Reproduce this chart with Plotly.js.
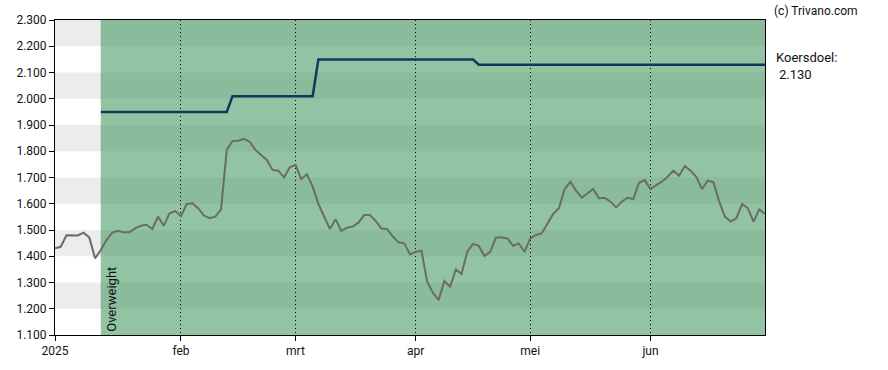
<!DOCTYPE html>
<html>
<head>
<meta charset="utf-8">
<script src="https://cdn.plot.ly/plotly-3.0.1.min.js"></script>
<style>html,body{margin:0;padding:0;background:#fff;}#chart{width:888px;height:370px;}</style>
</head>
<body>
<div id="chart"></div>
<script>
// Trading days (Euronext) per month, 2025
const janDays = [2,3,6,7,8,9,10,13,14,15,16,17,20,21,22,23,24,27,28,29,30,31];
const febDays = [3,4,5,6,7,10,11,12,13,14,17,18,19,20,21,24,25,26,27,28];
const marDays = [3,4,5,6,7,10,11,12,13,14,17,18,19,20,21,24,25,26,27,28,31];
const aprDays = [1,2,3,4,7,8,9,10,11,14,15,16,17,22,23,24,25,28,29,30];
const mayDays = [2,5,6,7,8,9,12,13,14,15,16,19,20,21,22,23,26,27,28,29,30];
const junDays = [2,3,4,5,6,9,10,11,12,13,16,17,18,19,20,23,24,25,26,27,30];

// Share price (closing)
const price = [
 1.430,1.436,1.480,1.480,1.479,1.490,1.471,1.392,1.424,1.462,
 1.490,1.497,1.491,1.491,1.506,1.516,1.520,1.504,1.551,1.516,
 1.564,1.572,1.553,1.599,1.602,1.583,1.555,1.545,1.551,1.579,
 1.805,1.839,1.840,1.847,1.836,1.805,1.786,1.767,1.729,1.726,
 1.700,1.739,1.748,1.694,1.712,1.665,1.599,1.548,1.504,1.541,
 1.497,1.509,1.513,1.528,1.557,1.557,1.535,1.506,1.504,1.475,
 1.453,1.449,1.407,1.417,1.421,1.303,1.261,1.233,1.306,1.284,
 1.350,1.332,1.417,1.447,1.440,1.401,1.417,1.471,1.471,1.468,
 1.440,1.449,1.417,1.468,1.481,1.487,1.525,1.561,1.583,1.655,
 1.684,1.650,1.623,1.640,1.656,1.621,1.623,1.608,1.586,1.608,
 1.623,1.618,1.680,1.690,1.656,1.671,1.684,1.703,1.726,1.707,
 1.744,1.726,1.703,1.656,1.688,1.682,1.608,1.551,1.532,1.545,
 1.599,1.583,1.532,1.579,1.561
];

// Analyst price target (koersdoel), from first rating date onwards
const targetStart = '2025-01-14';
const targetSteps = [            // [from date, target]
 ['2025-01-14', 1.950],
 ['2025-02-14', 2.010],
 ['2025-03-07', 2.150],
 ['2025-04-16', 2.130]
];
const ratingLabel = 'Overweight';

const tickVals = ['2025-01-02','2025-02-03','2025-03-03','2025-04-01','2025-05-02','2025-06-02'];
const tickText = ['2025','feb','mrt','apr','mei','jun'];
const yTicks = [1.1,1.2,1.3,1.4,1.5,1.6,1.7,1.8,1.9,2.0,2.1,2.2,2.3];

// ---- build dates ----
function pad(n){return (n<10?'0':'')+n;}
const dates = [];
[janDays,febDays,marDays,aprDays,mayDays,junDays].forEach((arr,m)=>{
  arr.forEach(d=>dates.push('2025-'+pad(m+1)+'-'+pad(d)));
});

// target series over dates
const target = dates.map(d=>{
  if (d < targetStart) return null;
  let v = null;
  targetSteps.forEach(s=>{ if (d >= s[0]) v = s[1]; });
  return v;
});

const startIdx = dates.indexOf(targetStart);
const lastIdx = dates.length - 1;

const shapes = [];
// alternating bands
const bandLows = [1.2,1.4,1.6,1.8,2.0,2.2];
bandLows.forEach(lo=>{
  shapes.push({type:'rect',layer:'below',xref:'paper',x0:0,x1:1,yref:'y',y0:lo,y1:lo+0.1,
    fillcolor:'#ececec',line:{width:0}});
});
// rating region (green)
shapes.push({type:'rect',layer:'below',xref:'x',x0:startIdx,x1:lastIdx,yref:'paper',y0:0,y1:1,
  fillcolor:'#92c4a3',line:{width:0}});
bandLows.forEach(lo=>{
  shapes.push({type:'rect',layer:'below',xref:'x',x0:startIdx,x1:lastIdx,yref:'y',y0:lo,y1:lo+0.1,
    fillcolor:'#8abb9a',line:{width:0}});
});

const lastTarget = target[lastIdx];

const data = [
  {x:dates,y:price,type:'scatter',mode:'lines',line:{color:'#6b6b6b',width:2},hoverinfo:'skip'},
  {x:dates,y:target,type:'scatter',mode:'lines',line:{color:'#0d3a5c',width:2.5},connectgaps:false,hoverinfo:'skip'}
];

const font = {family:'Roboto, "Liberation Sans", Arial, sans-serif', size:12, color:'#111'};
const bigFont = {family:font.family, size:13, color:'#111'};

const layout = {
  width:888,height:370,
  margin:{l:55,r:123,t:20,b:35,pad:0},
  paper_bgcolor:'#ffffff',plot_bgcolor:'#ffffff',
  showlegend:false,hovermode:false,
  font:font,
  xaxis:{type:'category',range:[0,lastIdx],tickmode:'array',tickvals:tickVals,ticktext:tickText,
    showgrid:true,gridcolor:'#000',gridwidth:1,griddash:'1px,3px',
    showline:true,mirror:true,linecolor:'#000',linewidth:1,
    ticks:'outside',ticklen:5,tickcolor:'#000',tickfont:font,zeroline:false,fixedrange:true},
  yaxis:{range:[1.1,2.3],tickmode:'array',tickvals:yTicks,ticktext:yTicks.map(v=>v.toFixed(3)),
    showgrid:false,showline:true,mirror:true,linecolor:'#000',linewidth:1,
    ticks:'outside',ticklen:5,tickcolor:'#000',tickfont:font,zeroline:false,fixedrange:true},
  shapes:shapes,
  annotations:[
    {text:'(c) Trivano.com',xref:'paper',yref:'paper',x:1,y:1,xanchor:'left',yanchor:'bottom',
     xshift:7,yshift:0,showarrow:false,font:font},
    {text:'Koersdoel:',xref:'paper',yref:'paper',x:1,y:1,xanchor:'left',yanchor:'middle',
     xshift:9,yshift:-37,showarrow:false,font:bigFont},
    {text:lastTarget.toFixed(3),xref:'paper',yref:'paper',x:1,y:1,xanchor:'left',yanchor:'middle',
     xshift:12,yshift:-54,showarrow:false,font:bigFont},
    {text:ratingLabel,xref:'x',yref:'paper',x:startIdx,y:0,xanchor:'left',yanchor:'bottom',
     xshift:1,yshift:1,textangle:-90,showarrow:false,font:bigFont}
  ]
};

Plotly.newPlot('chart',data,layout,{staticPlot:true,displayModeBar:false});
</script>
</body>
</html>
